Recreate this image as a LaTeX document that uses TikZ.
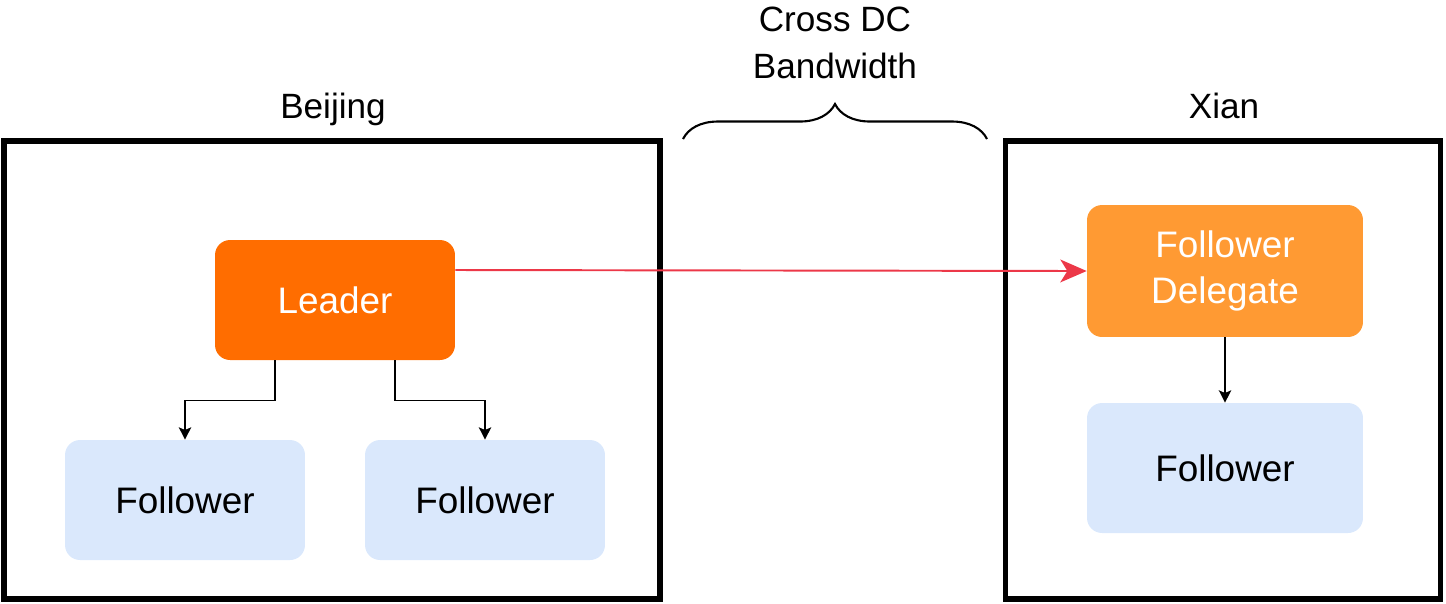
\documentclass[tikz,border=0pt]{standalone}
\usepackage{fontspec}
\setmainfont{Liberation Sans}
\usetikzlibrary{arrows.meta,decorations.pathreplacing}

\definecolor{leaderorange}{RGB}{255,109,0}
\definecolor{delegateorange}{RGB}{255,154,51}
\definecolor{followerblue}{RGB}{218,232,252}
\definecolor{linkred}{RGB}{236,56,72}

\begin{document}
\begin{tikzpicture}[x=0.02cm, y=-0.02cm,
    dcframe/.style = {rectangle, draw=black, line width=3pt, inner sep=0pt},
    dclabel/.style = {font=\fontsize{20}{27}\selectfont, inner sep=0pt},
    rolebox/.style = {rectangle, rounded corners=0.3cm, inner sep=0pt,
      font=\fontsize{21}{26}\selectfont, align=center},
    leaderbox/.style = {rolebox, fill=leaderorange, text=white},
    delegatebox/.style = {rolebox, fill=delegateorange, text=white},
    followerbox/.style = {rolebox, fill=followerblue, text=black},
    tree/.style = {draw=black, line width=0.9pt,
      -{Stealth[length=7pt, width=7pt, inset=1.5pt]}},
    crossdc/.style = {draw=linkred, line width=1.1pt,
      -{Stealth[length=15pt, width=13pt, inset=4pt]}}
  ]
  \useasboundingbox (0,0) rectangle (1446,603);

  % data centres
  \node[dcframe, minimum width=13.12cm, minimum height=9.16cm] (beijing) at (332,370) {};
  \node[dcframe, minimum width=8.7cm, minimum height=9.16cm] (xian) at (1223,370) {};
  \node[dclabel, anchor=base] (bjlabel) at (333,118) {Beijing};
  \node[dclabel, anchor=base] (xalabel) at (1224,118) {Xian};

  % bandwidth between the two
  \coordinate (bwleft) at (683,139);
  \coordinate (bwright) at (987,139);
  \draw[line width=1.2pt, decorate, decoration={brace, amplitude=0.7cm}] (bwleft) -- (bwright);
  \node[dclabel, align=center] (bandwidth) at (835,43) {Cross DC\\Bandwidth};

  % Beijing
  \node[leaderbox, minimum width=4.8cm, minimum height=2.4cm] (leader) at (335,300) {Leader};
  \node[followerbox, minimum width=4.8cm, minimum height=2.4cm] (bjfollowera) at (185,500) {Follower};
  \node[followerbox, minimum width=4.8cm, minimum height=2.4cm] (bjfollowerb) at (485,500) {Follower};

  % Xian
  \node[delegatebox, minimum width=5.52cm, minimum height=2.64cm] (delegate) at (1225,271) {Follower\\Delegate};
  \node[followerbox, minimum width=5.52cm, minimum height=2.6cm] (xafollower) at (1225,468) {Follower};

  \draw[tree] ([xshift=-1.2cm]leader.south) -- ++(0,40) -| (bjfollowera.north);
  \draw[tree] ([xshift=1.2cm]leader.south) -- ++(0,40) -| (bjfollowerb.north);
  \draw[tree] (delegate.south) -- (xafollower.north);

  \draw[crossdc] ([yshift=0.6cm]leader.east) -- (delegate.west);
\end{tikzpicture}
\end{document}
